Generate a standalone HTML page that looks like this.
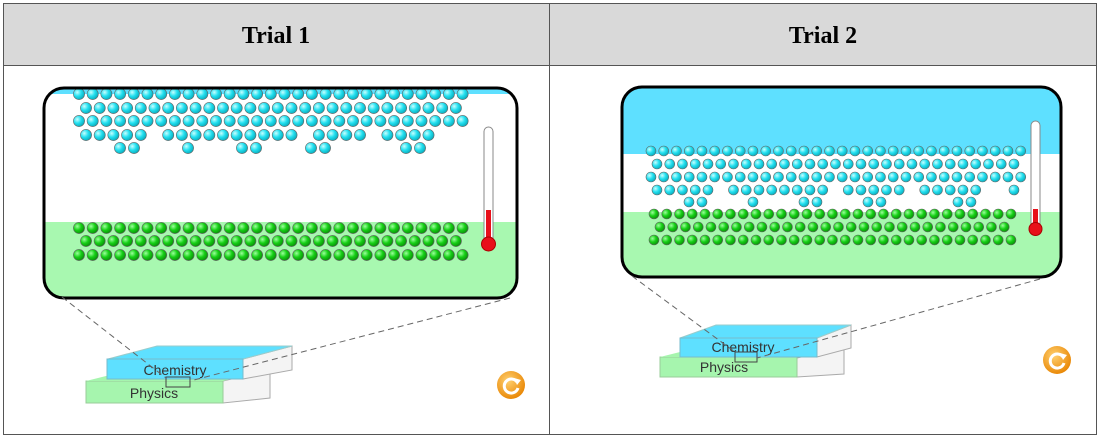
<!DOCTYPE html>
<html><head><meta charset="utf-8"><style>
body{margin:0;background:#fff;width:1102px;height:441px;overflow:hidden}
</style></head><body>
<svg id="s" width="1102" height="441" xmlns="http://www.w3.org/2000/svg" style="position:absolute;left:0;top:0">
<defs>
<radialGradient id="gc" cx="0.35" cy="0.35" r="0.7"><stop offset="0" stop-color="#c8ffff"/><stop offset="0.5" stop-color="#22e0f0"/><stop offset="1" stop-color="#0aa8b8"/></radialGradient>
<radialGradient id="gg" cx="0.35" cy="0.35" r="0.7"><stop offset="0" stop-color="#9dff9d"/><stop offset="0.5" stop-color="#16d016"/><stop offset="1" stop-color="#0a8a0a"/></radialGradient>
<radialGradient id="go" cx="0.4" cy="0.35" r="0.7"><stop offset="0" stop-color="#ffd070"/><stop offset="1" stop-color="#e88400"/></radialGradient>
<clipPath id="c1"><rect x="44" y="88" width="473" height="210" rx="20"/></clipPath>
<clipPath id="c2"><rect x="622" y="87" width="439" height="190" rx="20"/></clipPath>
</defs>
<rect x="3" y="3" width="1094" height="62" fill="#d9d9d9"/>
<rect x="3.5" y="3.5" width="1093" height="431" fill="none" stroke="#555" stroke-width="1"/>
<line x1="3" y1="65.5" x2="1097" y2="65.5" stroke="#555"/>
<line x1="549.5" y1="3" x2="549.5" y2="435" stroke="#555"/>
<text x="276" y="43" font-family="Liberation Serif" font-weight="bold" font-size="24" text-anchor="middle">Trial 1</text>
<text x="823" y="43" font-family="Liberation Serif" font-weight="bold" font-size="24" text-anchor="middle">Trial 2</text>
<g clip-path="url(#c1)">
<rect x="44" y="88" width="473" height="210" fill="#fff"/>
<rect x="44" y="222" width="473" height="80" fill="#a8f8b0"/>
<rect x="44" y="88" width="473" height="6" fill="#5ee0ff"/>
<g id="p1"></g>
</g>
<rect x="44" y="88" width="473" height="210" rx="20" fill="none" stroke="#000" stroke-width="3"/>
<g clip-path="url(#c2)">
<rect x="622" y="87" width="439" height="190" fill="#fff"/>
<rect x="622" y="87" width="439" height="67" fill="#5ee0ff"/>
<rect x="622" y="212" width="439" height="70" fill="#a8f8b0"/>
<g id="p2"></g>
</g>
<rect x="622" y="87" width="439" height="190" rx="20" fill="none" stroke="#000" stroke-width="3"/>
<!-- thermometers -->
<rect x="484" y="127" width="9" height="120" rx="4.5" fill="#fff" stroke="#888"/>
<rect x="486" y="210" width="5" height="35" fill="#e8101a"/>
<circle cx="488.5" cy="244" r="7" fill="#e8101a" stroke="#a00"/>
<rect x="1031" y="121" width="9" height="108" rx="4.5" fill="#fff" stroke="#888"/>
<rect x="1033" y="209" width="5" height="20" fill="#e8101a"/>
<circle cx="1035.5" cy="229" r="6.5" fill="#e8101a" stroke="#a00"/>
<!-- books left -->
<polygon points="223,381 270,370 270,398 223,403" fill="#f4f4f4" stroke="#aaa"/>
<rect x="86" y="381" width="137" height="22" fill="#a6f5ae" stroke="#9c9"/>
<polygon points="86,381 110,375 270,370 223,381" fill="#a6f5ae"/>
<polygon points="243,359 292,346 292,370 243,379" fill="#f4f4f4" stroke="#aaa"/>
<polygon points="108,359 157,346 292,346 243,359" fill="#5ee0ff" stroke="#9cc"/>
<rect x="107" y="359" width="136" height="20" fill="#5ee0ff" stroke="#7bc"/>
<text x="175" y="375" font-family="Liberation Sans" font-size="14" fill="#333" text-anchor="middle">Chemistry</text>
<text x="154" y="398" font-family="Liberation Sans" font-size="14" fill="#333" text-anchor="middle">Physics</text>
<rect x="166" y="377" width="24" height="10" fill="none" stroke="#444"/>
<line x1="62" y1="297" x2="166" y2="378" stroke="#666" stroke-dasharray="6,4"/>
<line x1="510" y1="298" x2="190" y2="381" stroke="#666" stroke-dasharray="6,4"/>
<circle cx="511" cy="385" r="14" fill="url(#go)"/>
<path d="M517,382 A7,7 0 1 0 518,388" fill="none" stroke="#fff" stroke-width="3"/><polygon points="514,378 521,380 517,385" fill="#fff"/>
<!-- books right -->
<polygon points="797,358 844,347 844,374 797,377" fill="#f4f4f4" stroke="#aaa"/>
<rect x="660" y="357" width="137" height="20" fill="#a6f5ae" stroke="#9c9"/>
<polygon points="660,357 684,351 844,347 797,357" fill="#a6f5ae"/>
<polygon points="817,338 851,325 851,348 817,357" fill="#f4f4f4" stroke="#aaa"/>
<polygon points="680,338 716,325 851,325 817,338" fill="#5ee0ff" stroke="#9cc"/>
<rect x="680" y="338" width="137" height="19" fill="#5ee0ff" stroke="#7bc"/>
<text x="743" y="352" font-family="Liberation Sans" font-size="14" fill="#333" text-anchor="middle">Chemistry</text>
<text x="724" y="372" font-family="Liberation Sans" font-size="14" fill="#333" text-anchor="middle">Physics</text>
<rect x="735" y="352" width="22" height="10" fill="none" stroke="#444"/>
<line x1="632" y1="276" x2="735" y2="352" stroke="#666" stroke-dasharray="6,4"/>
<line x1="1040" y1="279" x2="757" y2="358" stroke="#666" stroke-dasharray="6,4"/>
<circle cx="1057" cy="360" r="14" fill="url(#go)"/>
<path d="M1063,357 A7,7 0 1 0 1064,363" fill="none" stroke="#fff" stroke-width="3"/><polygon points="1060,353 1067,355 1063,360" fill="#fff"/>
</svg>
<script>
var NS="http://www.w3.org/2000/svg";
function c(g,x,y,r,f){var e=document.createElementNS(NS,"circle");e.setAttribute("cx",x);e.setAttribute("cy",y);e.setAttribute("r",r);e.setAttribute("fill",f);e.setAttribute("stroke","#666");e.setAttribute("stroke-width","0.6");g.appendChild(e);}
var g1=document.getElementById("p1"),s=13.7,r=5.6;
function row(g,x0,y,n,st,rr,f,skip){for(var i=0;i<n;i++){if(skip&&skip.indexOf(i)>=0)continue;c(g,x0+i*st,y,rr,f);}}
row(g1,79,94,29,s,r,"url(#gc)");
row(g1,86,108,28,s,r,"url(#gc)");
row(g1,79,121,29,s,r,"url(#gc)");
row(g1,86,135,28,s,r,"url(#gc)",[5,16,21,26,27]);
[120,134,188,242,256,311,325,406,420].forEach(function(x){c(g1,x,148,r,"url(#gc)")});
row(g1,79,228,29,s,r,"url(#gg)");
row(g1,86,241,28,s,r,"url(#gg)");
row(g1,79,255,29,s,r,"url(#gg)");
var g2=document.getElementById("p2"),s2=12.75,r2=5;
row(g2,651,151,30,s2,r2,"url(#gc)");
row(g2,657,164,29,s2,r2,"url(#gc)");
row(g2,651,177,30,s2,r2,"url(#gc)");
row(g2,657,190,29,s2,r2,"url(#gc)",[5,14,20,26,27]);
[689,702,753,804,817,868,881,958,971].forEach(function(x){c(g2,x,202,r2,"url(#gc)")});
row(g2,654,214,29,s2,r2,"url(#gg)");
row(g2,660,227,28,s2,r2,"url(#gg)");
row(g2,654,240,29,s2,r2,"url(#gg)");
</script>
</body></html>
